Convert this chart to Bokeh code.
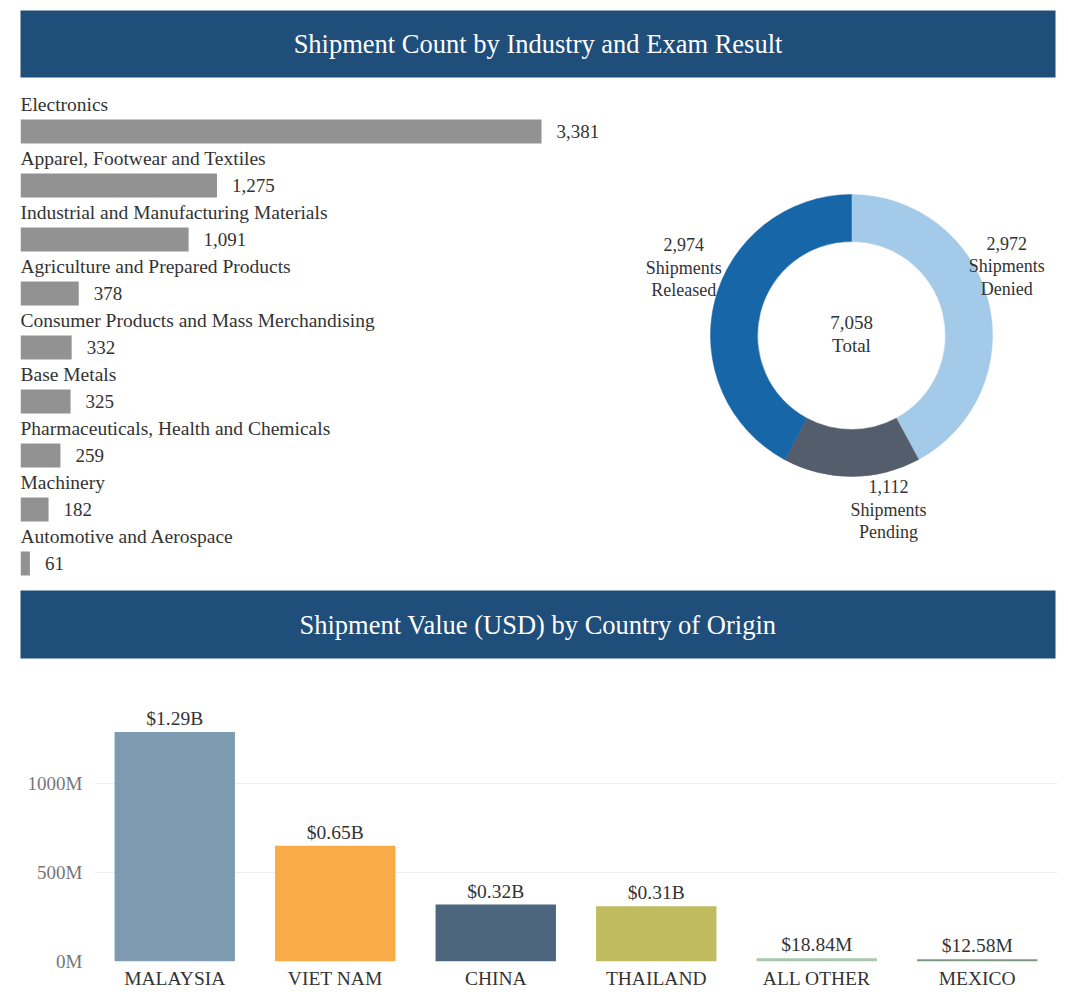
import math
from bokeh.plotting import figure
from bokeh.models import ColumnDataSource, Range1d, FactorRange, FixedTicker, PrintfTickFormatter
from bokeh.layouts import column, row
from bokeh.core.properties import value
from bokeh.embed import file_html
from bokeh.resources import INLINE

# ---------------- data ----------------
industries = [
    "Electronics",
    "Apparel, Footwear and Textiles",
    "Industrial and Manufacturing Materials",
    "Agriculture and Prepared Products",
    "Consumer Products and Mass Merchandising",
    "Base Metals",
    "Pharmaceuticals, Health and Chemicals",
    "Machinery",
    "Automotive and Aerospace",
]
industry_counts = [3381, 1275, 1091, 378, 332, 325, 259, 182, 61]

exam_results = ["Denied", "Pending", "Released"]
exam_counts = [2972, 1112, 2974]

countries = ["MALAYSIA", "VIET NAM", "CHINA", "THAILAND", "ALL OTHER", "MEXICO"]
country_values_musd = [1290, 650, 320, 310, 18.84, 12.58]
country_value_labels = ["$1.29B", "$0.65B", "$0.32B", "$0.31B", "$18.84M", "$12.58M"]
value_ticks_musd = [0, 500, 1000]

# ---------------- style ----------------
FONT = "Liberation Serif"
NAVY = "#204e7a"
TEXT = "#333333"
exam_colors = ["#a3cae8", "#535d6c", "#1666a8"]
country_colors = ["#7f9bb2", "#f8ab47", "#4c6680", "#c0bb5f", "#a9c7ae", "#7d9785"]


def base(**kw):
    p = figure(output_backend="svg", toolbar_location=None, **kw)
    p.outline_line_color = None
    p.background_fill_color = "white"
    p.border_fill_color = "white"
    return p


def header(title, height, top, bottom):
    p = base(width=1056, height=height, x_range=Range1d(0, 1), y_range=Range1d(0, 1),
             x_axis_location=None, y_axis_location=None,
             min_border_left=20, min_border_right=1, min_border_top=top, min_border_bottom=bottom)
    p.background_fill_color = NAVY
    p.xgrid.visible = False
    p.ygrid.visible = False
    p.text(x=[0.5], y=[0.5], text=[title], text_color="white", text_font=value(FONT),
           text_font_size="26.5px", text_align="center", text_baseline="middle")
    return p


# ---------------- header 1 ----------------
h1 = header("Shipment Count by Industry and Exam Result", 86, 10, 9)

# ---------------- industry bars ----------------
n = len(industries)
idx = list(range(n))
step_px = 54.0
px_per_count = 521.0 / 3381.0
bar_src = ColumnDataSource(dict(
    y=idx,
    ylab=[i - 0.5 for i in idx],
    v=industry_counts,
    name=industries,
    label=[f"{c:,}" for c in industry_counts],
))
pb = base(width=608, height=499,
          x_range=Range1d(0, 588 / px_per_count),
          y_range=Range1d((n - 1) + 22 / step_px, -45 / step_px),
          x_axis_location=None, y_axis_location=None,
          min_border_left=20, min_border_right=0, min_border_top=0, min_border_bottom=0)
pb.xgrid.visible = False
pb.ygrid.visible = False
pb.hbar(y="y", left=0, right="v", height=24 / step_px, fill_color="#929292", line_color=None, source=bar_src)
pb.text(x=0, y="ylab", text="name", source=bar_src, text_font=value(FONT), text_font_size="19.5px",
        text_color=TEXT, text_align="left", text_baseline="middle")
pb.text(x="v", y="y", text="label", source=bar_src, x_offset=15, text_font=value(FONT),
        text_font_size="19px", text_color=TEXT, text_align="left", text_baseline="middle")

# ---------------- donut ----------------
total = sum(exam_counts)
starts, ends = [], []
a = math.pi / 2
for c in exam_counts:
    s = a
    a = a - 2 * math.pi * c / total
    starts.append(s)
    ends.append(a)

label_angle_deg = [24, -78, 158]
label_radius = [170, 178, 181]
lx = [r * math.cos(math.radians(d)) for r, d in zip(label_radius, label_angle_deg)]
ly = [r * math.sin(math.radians(d)) for r, d in zip(label_radius, label_angle_deg)]
donut_src = ColumnDataSource(dict(
    start=starts, end=ends, color=exam_colors,
    lx=lx, ly=ly,
    label=[f"{c:,}\nShipments\n{r}" for c, r in zip(exam_counts, exam_results)],
))
pd_ = base(width=452, height=499, x_range=Range1d(-243, 209), y_range=Range1d(-250, 249),
           x_axis_location=None, y_axis_location=None,
           min_border_left=0, min_border_right=0, min_border_top=0, min_border_bottom=0)
pd_.xgrid.visible = False
pd_.ygrid.visible = False
pd_.annular_wedge(x=0, y=0, inner_radius=94, outer_radius=141, start_angle="start", end_angle="end",
                  direction="clock", fill_color="color", line_color="color", line_width=0.5,
                  source=donut_src)
pd_.text(x="lx", y="ly", text="label", source=donut_src, text_font=value(FONT), text_font_size="18px",
         text_color=TEXT, text_align="center", text_baseline="middle", text_line_height=1.12)
pd_.text(x=[0], y=[1.5], text=[f"{total:,}\nTotal"], text_font=value(FONT), text_font_size="19px",
         text_color=TEXT, text_align="center", text_baseline="middle", text_line_height=1.09)

# ---------------- header 2 ----------------
h2 = header("Shipment Value (USD) by Country of Origin", 76, 5, 3)

# ---------------- country columns ----------------
px_per_musd = 178.0 / 1000.0
col_src = ColumnDataSource(dict(c=countries, v=country_values_musd, lab=country_value_labels,
                                color=country_colors))
pc = base(width=1060, height=331, x_range=FactorRange(*countries), y_range=Range1d(0, 295 / px_per_musd),
          min_border_left=94, min_border_right=3, min_border_top=5, min_border_bottom=31)
pc.vbar(x="c", top="v", width=0.75, fill_color="color", line_color=None, source=col_src)
pc.text(x="c", y="v", text="lab", source=col_src, y_offset=-3, text_font=value(FONT),
        text_font_size="19.5px", text_color=TEXT, text_align="center", text_baseline="bottom")
ticker = FixedTicker(ticks=value_ticks_musd)
pc.yaxis.ticker = ticker
pc.ygrid.ticker = ticker
pc.yaxis.formatter = PrintfTickFormatter(format="%dM")
pc.xgrid.visible = False
pc.ygrid.grid_line_color = "#efefef"
for ax in (pc.xaxis, pc.yaxis):
    ax.axis_line_color = None
    ax.major_tick_line_color = None
    ax.minor_tick_line_color = None
    ax.major_tick_out = 0
    ax.major_tick_in = 0
    ax.major_label_text_font = FONT
pc.yaxis.major_label_text_font_size = "19px"
pc.yaxis.major_label_text_color = "#777777"
pc.yaxis.major_label_standoff = 12
pc.xaxis.major_label_text_font_size = "19.5px"
pc.xaxis.major_label_text_color = TEXT
pc.xaxis.major_label_standoff = 6

layout = column(h1, row(pb, pd_), h2, row(pc))
html = file_html(layout, INLINE)
open("out.html", "w").write(html)
